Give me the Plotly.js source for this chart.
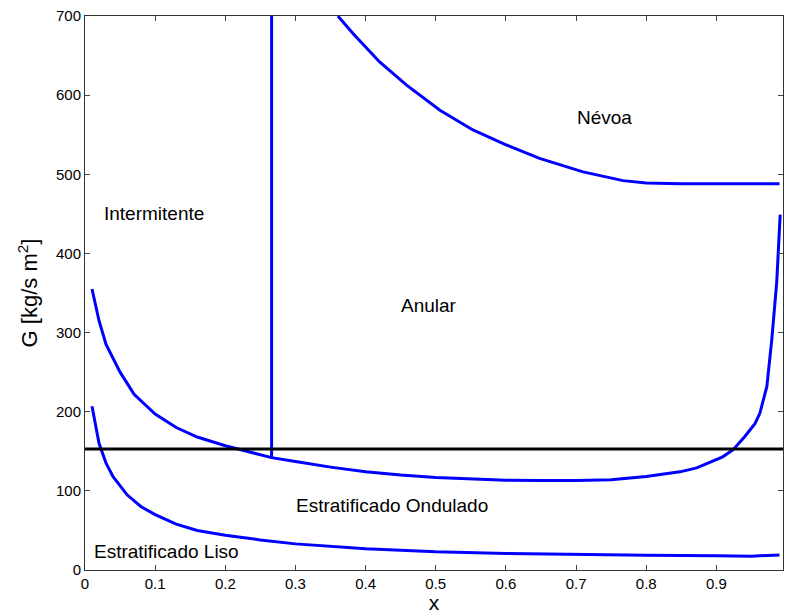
<!DOCTYPE html>
<html>
<head>
<meta charset="utf-8">
<script src="https://cdn.plot.ly/plotly-3.0.1.min.js"></script>
<style>html,body{margin:0;padding:0;background:#fff;}#chart{width:785px;height:614px;}</style>
</head>
<body>
<div id="chart"></div>
<script>
// Stratified-wavy boundary (Anular / Intermitente lower limit)
var wavyX = [0.01,0.02,0.03,0.05,0.07,0.1,0.13,0.16,0.2,0.235,0.266,0.3,0.35,0.4,0.45,0.5,0.55,0.6,0.65,0.7,0.75,0.8,0.848,0.872,0.909,0.924,0.94,0.955,0.962,0.972,0.979,0.986,0.991];
var wavyG = [355,315,285,250,222,197,180,168,157,149,142,137,130,124,120,117,115,113.5,113,113,114,118,124,129,143,152,168,185,198,232,291,363,449];
// Stratified smooth boundary
var smoothX = [0.01,0.02,0.03,0.04,0.06,0.08,0.1,0.13,0.16,0.2,0.25,0.3,0.4,0.5,0.6,0.7,0.8,0.9,0.95,0.99];
var smoothG = [207,160,135,118,95,80,70,58,50,44,38,33,27,23,21,19.5,18.5,18,17.5,19];
// Mist boundary
var mistX = [0.3605,0.382,0.42,0.458,0.506,0.553,0.601,0.648,0.71,0.767,0.80,0.85,0.9,0.99];
var mistG = [700,678,642,613,581,556,537,520,503,492,489,488,488,488];
// Intermittent / annular transition
var transX = [0.266,0.266];
var transG = [142,700];
// Horizontal reference line
var refX = [0,0.995];
var refG = [153,153];
// Region labels
var labelText = ["Névoa","Intermitente","Anular","Estratificado Ondulado","Estratificado Liso"];
var labelX = [0.74,0.099,0.49,0.437,0.116];
var labelG = [572,451,334,81,24];

var blue = {color:'#0000ff', width:3};
var traces = [
  {x:wavyX, y:wavyG, mode:'lines', line:blue},
  {x:smoothX, y:smoothG, mode:'lines', line:blue},
  {x:mistX, y:mistG, mode:'lines', line:blue},
  {x:transX, y:transG, mode:'lines', line:blue},
  {x:refX, y:refG, mode:'lines', line:{color:'#000000', width:3}}
];
var fam = 'Liberation Sans, Arial, sans-serif';
var annotations = labelText.map(function(t,i){
  return {x:labelX[i], y:labelG[i], xref:'x', yref:'y', text:t, showarrow:false,
    font:{family:fam, size:19, color:'#000'}};
});
var font = {family:fam, size:15, color:'#000'};
var layout = {
  width:785, height:614,
  margin:{l:85, r:2, t:16, b:44},
  showlegend:false,
  paper_bgcolor:'#fff', plot_bgcolor:'#fff',
  font:font,
  xaxis:{range:[0,0.995], dtick:0.1, tick0:0, ticks:'inside', ticklen:5, tickcolor:'#444',
    showline:true, linecolor:'#333', linewidth:1, mirror:'ticks', showgrid:false, zeroline:false,
    tickfont:font, title:{text:'x', font:{family:fam, size:21, color:'#000'}, standoff:4}},
  yaxis:{range:[0,700], dtick:100, ticks:'inside', ticklen:5, tickcolor:'#444',
    showline:true, linecolor:'#333', linewidth:1, mirror:'ticks', showgrid:false, zeroline:false,
    tickfont:font, title:{text:'G [kg/s m<sup>2</sup>]', font:{family:fam, size:22, color:'#000'}, standoff:12}},
  annotations:annotations
};
Plotly.newPlot('chart', traces, layout, {displayModeBar:false, staticPlot:true});
</script>
</body>
</html>
